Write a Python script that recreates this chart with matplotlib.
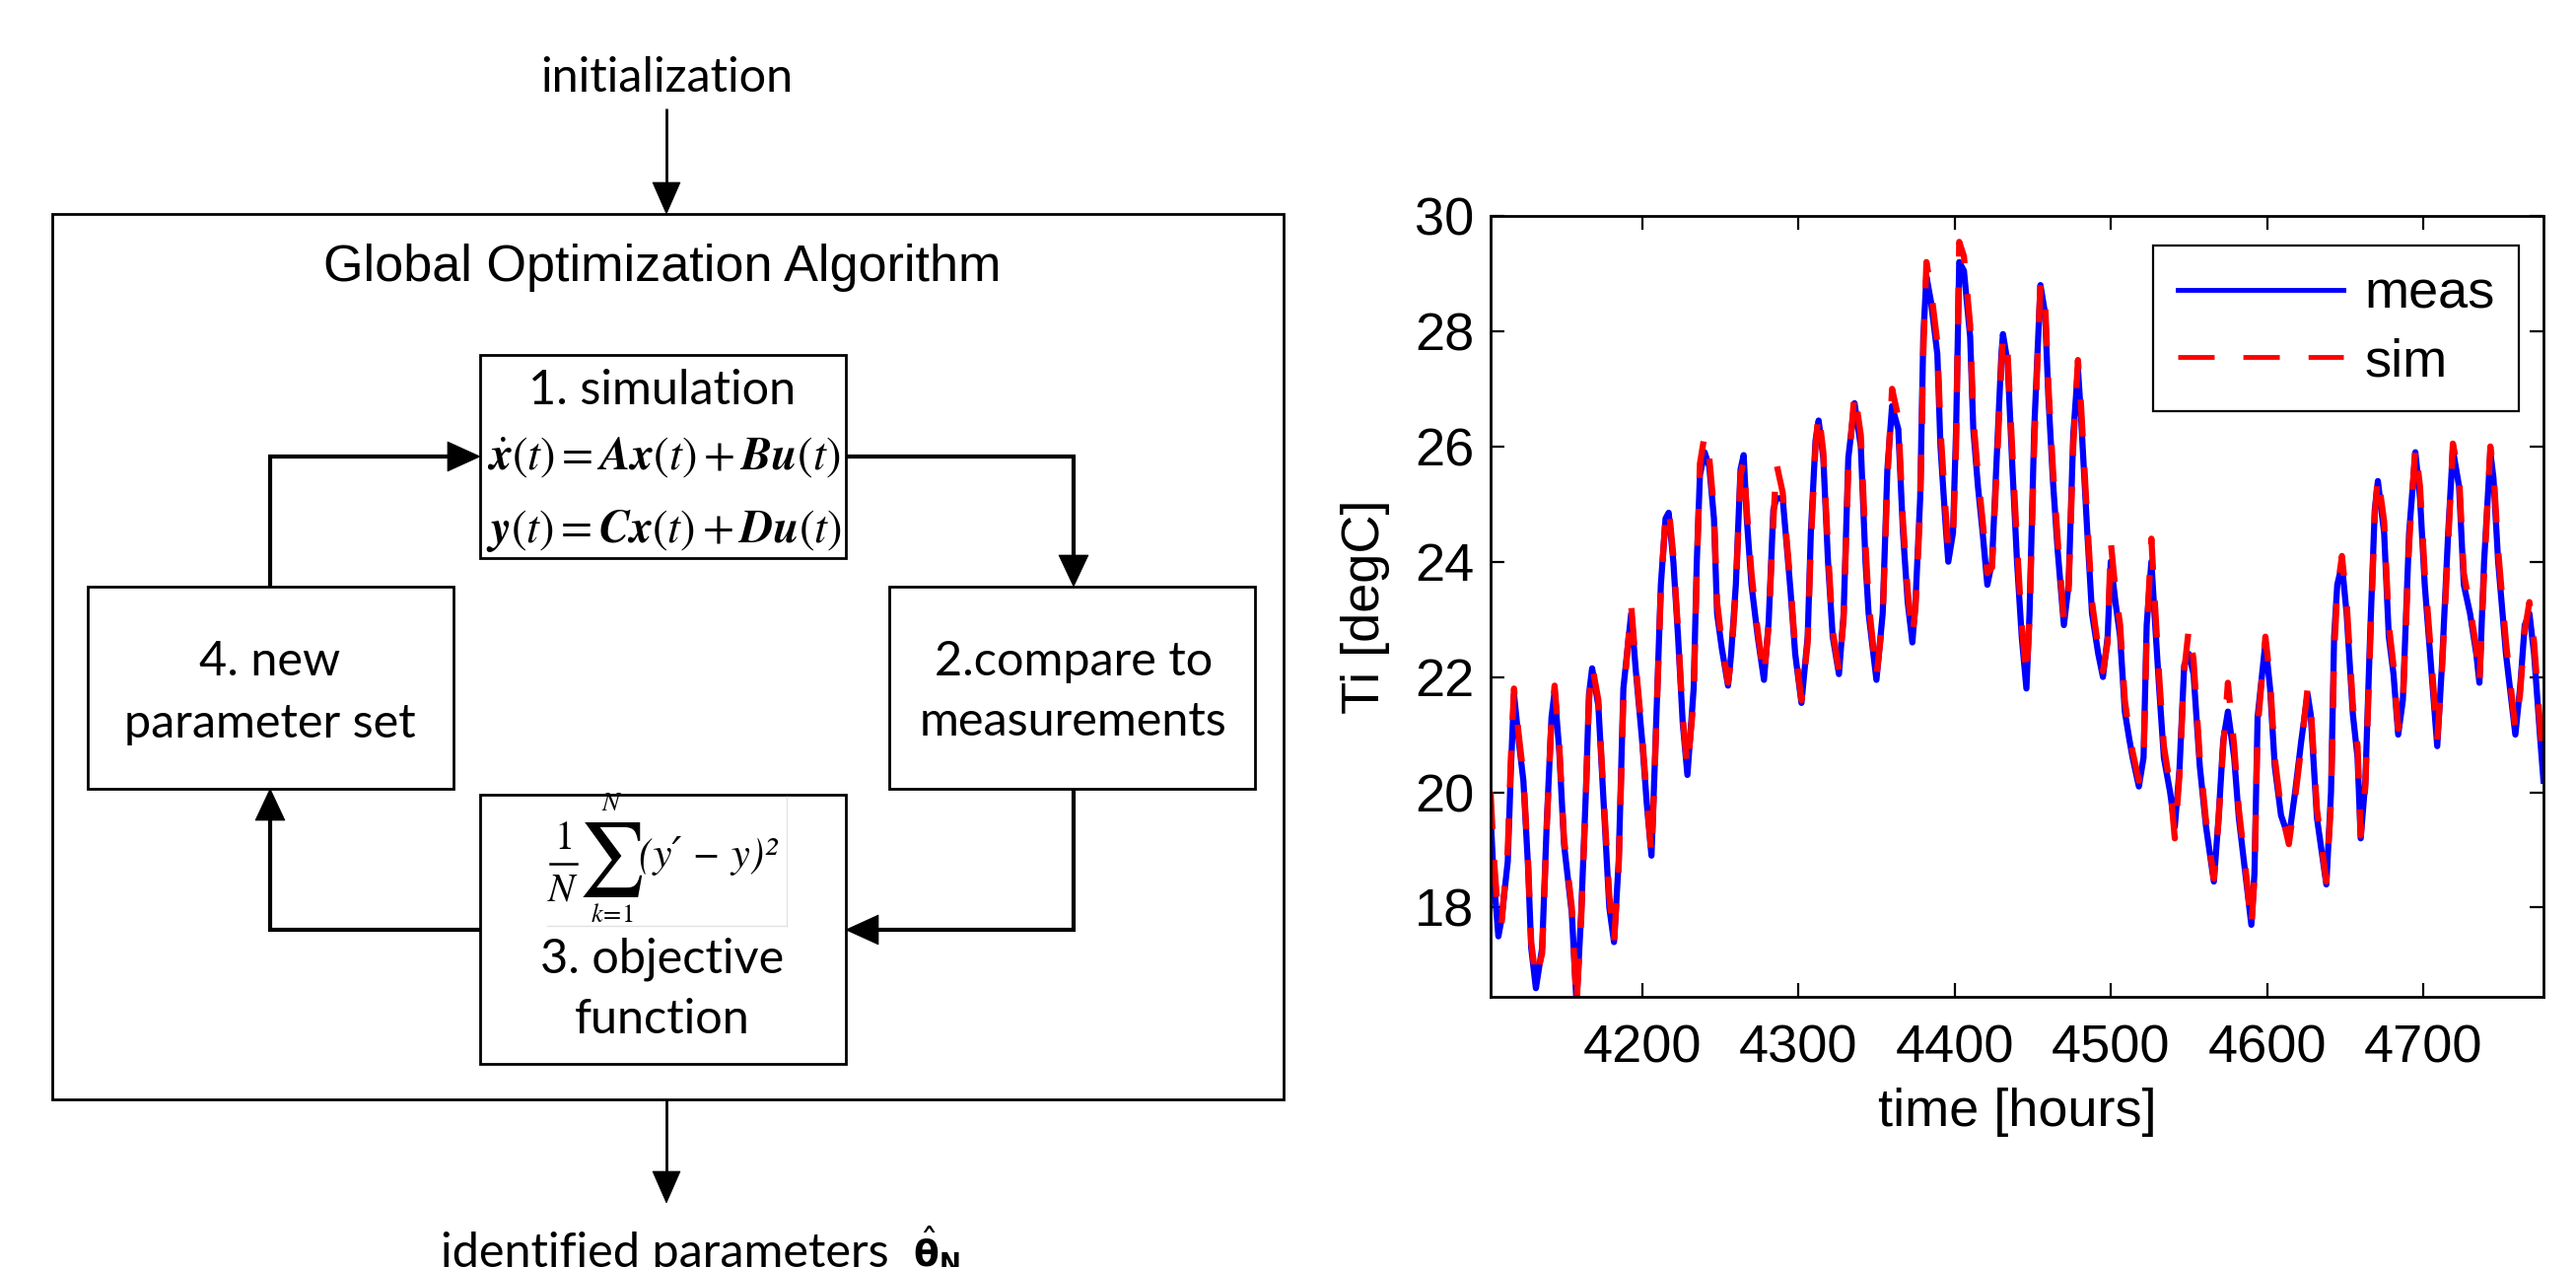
import matplotlib
matplotlib.use('Agg')
import matplotlib.pyplot as plt
from matplotlib.patches import Rectangle, Polygon

# ---------------- data ----------------
hours = [4103, 4105, 4108, 4110, 4114, 4116, 4118, 4121, 4124, 4127, 4129, 4132,
         4136, 4139, 4142, 4144, 4147, 4150, 4155, 4158, 4161, 4164, 4166, 4168,
         4172, 4175, 4179, 4182, 4185, 4188, 4193, 4196, 4200, 4203, 4206, 4208,
         4212, 4215, 4217, 4220, 4223, 4226, 4229, 4233, 4235, 4237, 4240, 4243,
         4246, 4248, 4251, 4255, 4257, 4260, 4263, 4265, 4267, 4270, 4274, 4278,
         4281, 4284, 4286, 4290, 4295, 4298, 4302, 4306, 4308, 4311, 4313, 4316,
         4319, 4322, 4326, 4329, 4332, 4336, 4340, 4343, 4345, 4350, 4354, 4357,
         4360, 4364, 4367, 4370, 4373, 4375, 4378, 4380, 4382, 4385, 4389, 4391,
         4394, 4396, 4399, 4401, 4403, 4406, 4410, 4412, 4415, 4418, 4421, 4424,
         4427, 4430, 4431, 4434, 4437, 4440, 4443, 4446, 4448, 4451, 4455, 4458,
         4460, 4463, 4466, 4470, 4473, 4476, 4479, 4481, 4485, 4488, 4492, 4495,
         4498, 4500, 4503, 4506, 4509, 4512, 4514, 4518, 4521, 4523, 4526, 4528,
         4531, 4534, 4538, 4541, 4544, 4547, 4550, 4553, 4557, 4561, 4566, 4569,
         4572, 4575, 4579, 4582, 4587, 4590, 4592, 4594, 4599, 4602, 4605, 4609,
         4614, 4618, 4622, 4626, 4628, 4632, 4638, 4641, 4643, 4645, 4648, 4651,
         4655, 4658, 4660, 4663, 4666, 4669, 4671, 4675, 4678, 4681, 4684, 4687,
         4691, 4695, 4698, 4701, 4705, 4709, 4712, 4716, 4719, 4723, 4726, 4730,
         4734, 4736, 4739, 4743, 4745, 4748, 4753, 4756, 4759, 4762, 4765, 4768,
         4771, 4775, 4777]

meas = [19.6, 18.5, 17.5, 17.8, 18.8, 20.4, 21.7, 20.9, 20.2, 18.7, 17.3, 16.6,
        17.3, 19.5, 21.3, 21.75, 20.7, 19.1, 17.9, 16.35, 17.9, 20.0, 21.7, 22.15,
        21.5, 20.0, 18.0, 17.4, 18.8, 21.8, 23.1, 22.1, 20.9, 19.8, 18.9, 20.4,
        23.6, 24.75, 24.85, 24.0, 22.7, 21.2, 20.3, 21.8, 24.0, 25.5, 25.9, 25.65,
        24.75, 23.1, 22.5, 21.85, 22.4, 23.6, 25.6, 25.85, 24.75, 23.6, 22.7, 21.95,
        22.95, 24.9, 25.1, 25.1, 23.5, 22.4, 21.55, 22.7, 24.5, 26.1, 26.45, 25.8,
        24.0, 22.7, 22.05, 23.1, 25.8, 26.75, 26.0, 24.0, 23.1, 21.95, 23.1, 25.6,
        26.7, 26.3, 24.5, 23.3, 22.6, 23.3, 25.1, 27.9, 28.95, 28.5, 27.6, 26.0,
        24.75, 24.0, 24.5, 26.3, 29.2, 29.05, 27.9, 26.3, 25.3, 24.5, 23.6, 24.0,
        25.8, 27.6, 27.95, 27.45, 25.65, 24.0, 22.7, 21.8, 23.1, 26.3, 28.8, 28.3,
        26.9, 25.4, 24.2, 22.9, 23.6, 26.2, 27.35, 26.5, 24.5, 23.1, 22.4, 22.0,
        22.7, 24.0, 23.3, 22.7, 21.4, 20.9, 20.6, 20.1, 20.6, 22.9, 24.0, 23.1,
        21.8, 20.6, 20.0, 19.4, 20.4, 22.2, 22.4, 22.05, 20.45, 19.4, 18.45, 19.55,
        20.9, 21.4, 20.6, 19.55, 18.4, 17.7, 18.6, 21.3, 22.6, 21.8, 20.45, 19.6,
        19.2, 20.0, 20.9, 21.7, 21.35, 19.55, 18.4, 20.0, 22.7, 23.6, 23.95, 23.1,
        21.35, 20.6, 19.2, 20.2, 22.7, 24.9, 25.4, 24.5, 22.7, 22.05, 21.0, 21.6,
        24.5, 25.9, 25.1, 23.6, 22.2, 20.8, 22.2, 24.5, 25.95, 25.3, 23.6, 23.1,
        22.4, 21.9, 24.0, 25.9, 25.45, 24.0, 22.4, 21.7, 21.0, 21.8, 22.9, 23.1,
        22.4, 20.9, 20.2]

sim = [20.0, 18.9, 17.8, 17.7, 19.0, 20.6, 21.8, 21.0, 20.3, 18.8, 17.4, 16.75,
       17.2, 19.4, 21.3, 21.85, 20.8, 19.2, 18.0, 16.3, 17.8, 19.9, 21.6, 22.2,
       21.6, 20.1, 18.2, 17.4, 18.7, 21.6, 23.25, 22.2, 21.0, 19.9, 18.9, 20.3,
       23.5, 24.8, 24.95, 24.1, 22.8, 21.3, 20.4, 21.6, 23.8, 25.7, 26.2, 25.8,
       24.9, 23.3, 22.6, 21.9, 22.3, 23.5, 25.5, 25.75, 24.9, 23.8, 22.8, 22.0,
       22.9, 24.7, 25.7, 25.2, 23.6, 22.5, 21.6, 22.6, 24.3, 26.0, 26.6, 25.9,
       24.2, 22.8, 22.1, 23.0, 25.6, 26.95, 26.2, 24.3, 23.3, 22.0, 23.0, 25.4,
       27.0, 26.5, 24.7, 23.5, 22.7, 23.2, 24.9, 27.6, 29.2, 28.7, 27.8, 26.3,
       25.0, 24.2, 24.4, 26.0, 29.55, 29.3, 28.1, 26.5, 25.5, 24.7, 23.8, 23.9,
       25.6, 27.4, 27.95, 27.6, 25.9, 24.3, 22.9, 22.0, 23.0, 26.0, 28.85, 28.5,
       27.1, 25.6, 24.4, 23.0, 23.5, 26.0, 27.5, 26.7, 24.7, 23.3, 22.5, 22.1,
       22.6, 24.35, 23.5, 22.9, 21.6, 21.0, 20.7, 20.2, 20.5, 22.7, 24.4, 23.4,
       22.0, 20.8, 20.1, 19.2, 20.3, 22.1, 22.85, 22.3, 20.6, 19.5, 18.5, 19.5,
       20.8, 21.9, 20.8, 19.7, 18.5, 17.65, 18.5, 21.1, 22.7, 21.95, 20.6, 19.7,
       19.1, 19.9, 20.8, 21.8, 21.5, 19.7, 18.45, 19.8, 22.4, 23.5, 24.1, 23.3,
       21.5, 20.8, 19.25, 20.1, 22.5, 24.8, 25.5, 24.7, 22.9, 22.2, 21.1, 21.5,
       24.3, 26.0, 25.3, 23.8, 22.4, 20.9, 22.1, 24.3, 26.05, 25.5, 23.8, 23.2,
       22.5, 21.9, 23.8, 26.0, 25.6, 24.2, 22.6, 21.85, 21.1, 21.7, 22.8, 23.3,
       22.6, 21.1, 20.5]

x_ticks = [4200, 4300, 4400, 4500, 4600, 4700]
y_ticks = [18, 20, 22, 24, 26, 28, 30]
series_labels = ['meas', 'sim']
x_label = 'time [hours]'
y_label = 'Ti [degC]'

# ---------------- figure ----------------
plt.rcParams['mathtext.fontset'] = 'custom'
plt.rcParams['mathtext.rm'] = 'STIXGeneral'
plt.rcParams['mathtext.it'] = 'STIXGeneral:italic'
plt.rcParams['mathtext.bf'] = 'STIXGeneral:italic:bold'

W, H = 2613, 1285
fig = plt.figure(figsize=(W / 100, H / 100), dpi=100)
fig.patch.set_facecolor('white')

ax0 = fig.add_axes([0, 0, 1, 1])
ax0.set_xlim(0, W)
ax0.set_ylim(H, 0)
ax0.axis('off')

CAL = 'Lato'
ARIAL = 'Liberation Sans'


def box(x0, y0, x1, y1, lw=2.0):
    ax0.add_patch(Rectangle((x0, y0), x1 - x0, y1 - y0, fill=False,
                            ec='black', lw=lw, joinstyle='miter'))


def head(tx, ty, d, L=32, Wd=28):
    if d == 'down':
        pts = [(tx, ty), (tx - Wd / 2, ty - L), (tx + Wd / 2, ty - L)]
    elif d == 'up':
        pts = [(tx, ty), (tx - Wd / 2, ty + L), (tx + Wd / 2, ty + L)]
    elif d == 'right':
        pts = [(tx, ty), (tx - L, ty - Wd / 2), (tx - L, ty + Wd / 2)]
    else:
        pts = [(tx, ty), (tx + L, ty - Wd / 2), (tx + L, ty + Wd / 2)]
    ax0.add_patch(Polygon(pts, closed=True, fc='black', ec='black', lw=0.5))


def path(xs, ys, lw=3.0):
    ax0.plot(xs, ys, color='black', lw=lw, solid_joinstyle='miter',
             solid_capstyle='butt')


# boxes
box(53, 217, 1302, 1115, lw=2.0)
box(487, 360, 858, 566)
box(89, 595, 460, 800)
box(902, 595, 1273, 800)
box(487, 806, 858, 1079)

# thin arrows in / out
path([676, 676], [110, 190], lw=2.0)
head(676, 217, 'down', L=32, Wd=28)
path([676, 676], [1115, 1192], lw=2.0)
head(676, 1220, 'down', L=32, Wd=28)

# loop arrows
path([274, 274, 460], [595, 463, 463])
head(487, 463, 'right', L=33, Wd=30)
path([858, 1089, 1089], [463, 463, 568])
head(1089, 595, 'down', L=32, Wd=30)
path([1089, 1089, 885], [800, 943, 943])
head(858, 943, 'left', L=33, Wd=30)
path([487, 274, 274], [943, 943, 827])
head(274, 800, 'up', L=32, Wd=30)

# texts
ax0.text(676, 79, 'initialization', fontfamily=CAL, fontsize=35,
         ha='center', va='center')
ax0.text(672, 272, 'Global Optimization Algorithm', fontfamily=ARIAL,
         fontsize=37.5, ha='center', va='center')
ax0.text(672, 396, '1. simulation', fontfamily=CAL, fontsize=35,
         ha='center', va='center')
ax0.text(673, 463, r'$\dot{\mathbf{x}}(t) = \mathbf{Ax}(t) + \mathbf{Bu}(t)$',
         fontsize=33.5, ha='center', va='center')
ax0.text(673, 539, r'$\mathbf{y}(t) = \mathbf{Cx}(t) + \mathbf{Du}(t)$',
         fontsize=33.5, ha='center', va='center')
ax0.text(274, 671, '4. new', fontfamily=CAL, fontsize=35,
         ha='center', va='center')
ax0.text(274, 734, 'parameter set', fontfamily=CAL, fontsize=35,
         ha='center', va='center')
ax0.text(1089, 671, '2.compare to', fontfamily=CAL, fontsize=35,
         ha='center', va='center')
ax0.text(1089, 732, 'measurements', fontfamily=CAL, fontsize=35,
         ha='center', va='center')
ax0.text(672, 973, '3. objective', fontfamily=CAL, fontsize=35,
         ha='center', va='center')
ax0.text(672, 1034, 'function', fontfamily=CAL, fontsize=35,
         ha='center', va='center')

# objective-function formula
ax0.text(571, 850, r'$1$', fontsize=29, ha='center', va='center')
ax0.plot([558, 585], [876, 876], color='black', lw=1.8)
ax0.text(571, 902, r'$N$', fontsize=29, ha='center', va='center')
ax0.text(621, 872, '\u2211', fontfamily='STIXGeneral', fontsize=54,
         ha='center', va='center')
ax0.text(621, 815, r'$N$', fontsize=19, ha='center', va='center')
ax0.text(621, 928, r'$k\!=\!1$', fontsize=19, ha='center', va='center')
ax0.text(648, 868, '(y\u2032 \u2212 y)\u00b2',
         fontfamily=['STIXGeneral', 'DejaVu Serif'],
         style='italic', fontsize=31, ha='left', va='center')
ax0.plot([798, 798], [808, 939], color='#e2e2e2', lw=1)
ax0.plot([555, 798], [939, 939], color='#e2e2e2', lw=1)

ax0.text(902, 1285, 'identified parameters', fontfamily=CAL, fontsize=35,
         ha='right', va='baseline')
ax0.text(926, 1285, r'$\hat{\mathbf{\theta}}_{\mathbf{N}}$',
         math_fontfamily='dejavusans', fontsize=27, ha='left', va='baseline')

# ---------------- time-series chart ----------------
ax = fig.add_axes([1512 / W, (H - 1011) / H, (2580 - 1512) / W, (1011 - 219) / H])
ax.plot(hours, meas, color='blue', lw=4.5, label=series_labels[0],
        solid_joinstyle='round')
ax.plot(hours, sim, color='red', lw=4.5, linestyle=(0, (6, 5)),
        label=series_labels[1], dash_joinstyle='round')
ax.set_xlim(4103, 4777)
ax.set_ylim(16.45, 30)
ax.set_xticks(x_ticks)
ax.set_yticks(y_ticks)
ax.tick_params(direction='in', length=10, width=1.6, top=True, right=True,
               labelsize=39, pad=12)
ax.tick_params(axis='x', pad=20)
for lab in ax.get_xticklabels() + ax.get_yticklabels():
    lab.set_fontfamily(ARIAL)
for sp in ax.spines.values():
    sp.set_linewidth(2.0)
ax.set_xlabel(x_label, fontfamily=ARIAL, fontsize=39, labelpad=10)
ax.set_ylabel(y_label, fontfamily=ARIAL, fontsize=39, labelpad=18)

leg = ax.legend(loc='upper right', bbox_to_anchor=(0.9766, 0.962),
                borderaxespad=0, prop={'family': ARIAL, 'size': 39},
                handlelength=3.1, handletextpad=0.4, borderpad=0.45,
                labelspacing=0.35, fancybox=False, framealpha=1,
                edgecolor='black')
leg.get_frame().set_linewidth(1.6)
leg_lines = leg.get_lines()
for ln in leg_lines:
    ln.set_linewidth(3.5)
leg_lines[1].set_linestyle((0, (7.6, 6.0)))

fig.savefig('out.png', dpi=100, facecolor='white')
